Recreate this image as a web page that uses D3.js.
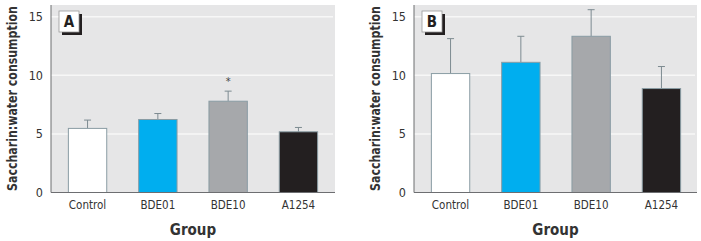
<!DOCTYPE html>
<html>
<head>
<meta charset="utf-8">
<script src="https://cdn.jsdelivr.net/npm/d3@7"></script>
<style>
  body { margin: 0; background: #fff; }
  text { font-family: "Liberation Sans Narrow", "DejaVu Sans Condensed", "Roboto", sans-serif; }
</style>
</head>
<body>
<svg id="chart" width="701" height="241"></svg>
<script>
const groups = ["Control", "BDE01", "BDE10", "A1254"];
const colors = ["#ffffff", "#00aeef", "#a6a8ab", "#231f20"];
const yTicks = [0, 5, 10, 15];

const meanA = [5.47, 6.23, 7.79, 5.18];
const errA = [6.18, 6.74, 8.65, 5.55];
const starA = [false, false, true, false];

const meanB = [10.15, 11.11, 13.33, 8.87];
const errB = [13.13, 13.33, 15.6, 10.75];
const starB = [false, false, false, false];

const svg = d3.select("#chart");

function panel(cfg) {
    const g = svg.append("g");
    const yscale = d3.scaleLinear().domain([0, 16]).range([192.5, 5]);
    const xscale = d3.scaleBand()
        .domain(groups)
        .range([cfg.left, cfg.right])
        .paddingInner(0.44)
        .paddingOuter(0.24);

    // background
    g.append("rect")
        .attr("x", cfg.left).attr("y", yscale(16))
        .attr("width", cfg.bgRight - cfg.left)
        .attr("height", yscale(0) - yscale(16))
        .attr("fill", "#e6e6e7");

    // gridlines
    g.selectAll(".grid")
        .data(yTicks.filter(d => d > 0))
        .join("line")
        .attr("x1", cfg.left).attr("x2", cfg.bgRight - 2)
        .attr("y1", d => yscale(d)).attr("y2", d => yscale(d))
        .attr("stroke", "#f7f7f7").attr("stroke-width", 1.5);

    const data = groups.map((k, i) => ({ k, v: cfg.mean[i], e: cfg.err[i], c: colors[i], s: cfg.star[i] }));

    // error bars
    g.selectAll(".err")
        .data(data)
        .join("line")
        .attr("x1", d => xscale(d.k) + xscale.bandwidth() / 2)
        .attr("x2", d => xscale(d.k) + xscale.bandwidth() / 2)
        .attr("y1", d => yscale(d.v)).attr("y2", d => yscale(d.e))
        .attr("stroke", "#7d8b91").attr("stroke-width", 1);
    g.selectAll(".cap")
        .data(data)
        .join("line")
        .attr("x1", d => xscale(d.k) + xscale.bandwidth() / 2 - 3.5)
        .attr("x2", d => xscale(d.k) + xscale.bandwidth() / 2 + 3.5)
        .attr("y1", d => yscale(d.e)).attr("y2", d => yscale(d.e))
        .attr("stroke", "#7d8b91").attr("stroke-width", 1);

    // bars
    g.selectAll(".bar")
        .data(data)
        .join("rect")
        .attr("x", d => xscale(d.k) + 0.5)
        .attr("y", d => yscale(d.v))
        .attr("width", xscale.bandwidth() - 1)
        .attr("height", d => yscale(0) - yscale(d.v))
        .attr("fill", d => d.c)
        .attr("stroke", "#8a9ca4").attr("stroke-width", 1);

    // asterisk
    g.selectAll(".star")
        .data(data.filter(d => d.s))
        .join("text")
        .attr("x", d => xscale(d.k) + xscale.bandwidth() / 2)
        .attr("y", d => yscale(d.e) - 6)
        .attr("text-anchor", "middle")
        .style("font-size", "11px")
        .attr("fill", "#444")
        .text("*");

    // axes
    g.append("line")
        .attr("x1", cfg.left).attr("x2", cfg.left)
        .attr("y1", yscale(16)).attr("y2", yscale(0))
        .attr("stroke", "#6d6e71").attr("stroke-width", 1);
    g.append("line")
        .attr("x1", cfg.left).attr("x2", cfg.bgRight)
        .attr("y1", yscale(0)).attr("y2", yscale(0))
        .attr("stroke", "#6d6e71").attr("stroke-width", 1);

    // tick labels
    g.selectAll(".ytick")
        .data(yTicks)
        .join("text")
        .attr("x", cfg.left - 8)
        .attr("y", d => yscale(d) + 4.5)
        .attr("text-anchor", "end")
        .style("font-size", "12.5px")
        .attr("fill", "#333")
        .text(d => d);

    g.selectAll(".xtick")
        .data(groups)
        .join("text")
        .attr("x", d => xscale(d) + xscale.bandwidth() / 2)
        .attr("y", 209)
        .attr("text-anchor", "middle")
        .style("font-size", "11.5px")
        .attr("fill", "#333")
        .text(d => d);

    // axis titles
    g.append("text")
        .attr("x", (cfg.left + cfg.bgRight) / 2)
        .attr("y", 235)
        .attr("text-anchor", "middle")
        .style("font-size", "15px")
        .style("font-weight", "bold")
        .attr("fill", "#333")
        .text("Group");

    const ytitle = g.append("text")
        .attr("text-anchor", "middle")
        .style("font-size", "14.5px")
        .style("font-weight", "bold")
        .attr("fill", "#333")
        .text("Saccharin:water consumption");
    // squeeze the title so it spans the plot height
    const sx = Math.min(1, 185 / ytitle.node().getComputedTextLength());
    ytitle.attr("transform", `translate(${cfg.titleX}, 98.5) rotate(-90) scale(${sx}, 1)`);

    // panel letter
    const bx = cfg.left + cfg.boxOffset, by = 11;
    g.append("rect")
        .attr("x", bx + 3).attr("y", by + 3)
        .attr("width", 20).attr("height", 21)
        .attr("fill", "#231f20");
    g.append("rect")
        .attr("x", bx).attr("y", by)
        .attr("width", 20).attr("height", 21)
        .attr("fill", "#fff")
        .attr("stroke", "#9a9a9a").attr("stroke-width", 0.8);
    g.append("text")
        .attr("x", bx + 10).attr("y", by + 16)
        .attr("text-anchor", "middle")
        .style("font-size", "15px")
        .style("font-weight", "bold")
        .attr("fill", "#231f20")
        .text(cfg.letter);
}

panel({ left: 51, right: 335, bgRight: 335, titleX: 17, boxOffset: 8, letter: "A",
        mean: meanA, err: errA, star: starA });
panel({ left: 414, right: 698, bgRight: 697, titleX: 380, boxOffset: 8, letter: "B",
        mean: meanB, err: errB, star: starB });
</script>
</body>
</html>
